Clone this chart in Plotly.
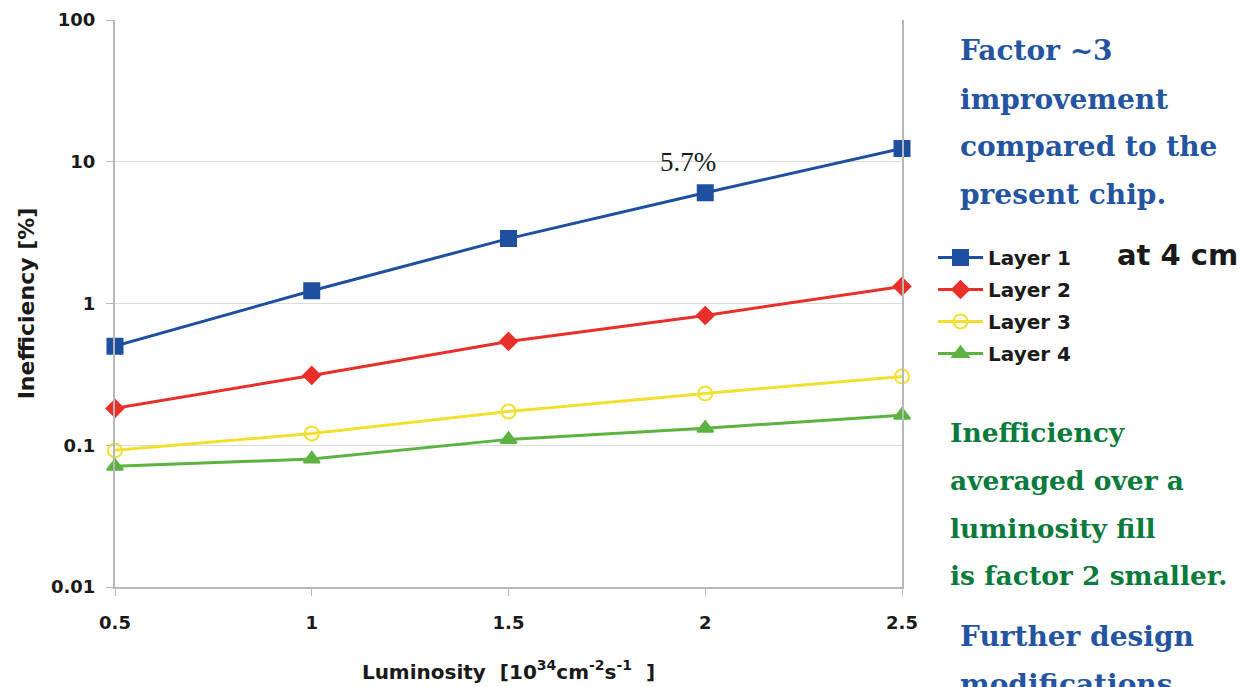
import plotly.graph_objects as go

luminosity = [0.5, 1.0, 1.5, 2.0, 2.5]
layer1 = [0.50, 1.23, 2.87, 6.05, 12.4]
layer2 = [0.182, 0.311, 0.54, 0.823, 1.32]
layer3 = [0.092, 0.121, 0.173, 0.232, 0.306]
layer4 = [0.071, 0.080, 0.110, 0.132, 0.163]
series_names = ["Layer 1", "Layer 2", "Layer 3", "Layer 4"]
x_ticks = [0.5, 1, 1.5, 2, 2.5]
x_tick_labels = ["0.5", "1", "1.5", "2", "2.5"]
y_ticks = [0.01, 0.1, 1, 10, 100]
y_tick_labels = ["0.01", "0.1", "1", "10", "100"]

W, H = 1248, 687
L, R, T, B = 115, 902, 20, 587

def px(xp):
    return (xp - L) / (R - L)

def py(yp):
    return (B - yp) / (B - T)

colors = ["#1f4f9f", "#e8302a", "#f2e030", "#5db342"]
symbols = ["square", "diamond", "circle-open", "triangle-up"]
sizes = [15, 13, 14, 14]

sans_b = "DejaVu Sans"
fig = go.Figure()
for i, (name, vals, c, s, sz) in enumerate(zip(series_names, [layer1, layer2, layer3, layer4], colors, symbols, sizes)):
    fig.add_trace(go.Scatter(
        x=luminosity, y=vals, name=name, mode="lines+markers", legendgroup="g%d" % i,
        line=dict(color=c, width=3),
        marker=dict(symbol=s, size=sz, color=c, line=dict(color=c, width=2)),
        cliponaxis=False,
    ))

fig.update_layout(
    width=W, height=H,
    margin=dict(l=L, r=W - R, t=T, b=H - B, autoexpand=False),
    paper_bgcolor="white", plot_bgcolor="white",
    font=dict(family=sans_b, color="#1a1a1a"),
    showlegend=True,
    legend=dict(x=px(933), y=py(238), xanchor="left", yanchor="top",
                font=dict(size=20, family=sans_b, color="#1a1a1a", weight="bold"),
                bgcolor="rgba(0,0,0,0)", tracegroupgap=3, traceorder="grouped", itemwidth=45),
    xaxis=dict(range=[0.5, 2.5], tickvals=x_ticks, ticktext=x_tick_labels, automargin=False,
               showgrid=False, showline=True, linecolor="#b8b8b8", linewidth=2,
               ticks="outside", ticklen=7, tickcolor="#b8b8b8", zeroline=False,
               ticklabelstandoff=11,
               tickfont=dict(size=18, family=sans_b, weight="bold", color="#1a1a1a"),
               title=dict(text="Luminosity  [10<sup>34</sup>cm<sup>-2</sup>s<sup>-1</sup>  ]",
                          font=dict(size=20, family=sans_b, weight="bold", color="#1a1a1a"), standoff=33)),
    yaxis=dict(type="log", range=[-2, 2], tickvals=y_ticks, ticktext=y_tick_labels, automargin=False,
               showgrid=True, gridcolor="#dcdcdc", gridwidth=1,
               showline=True, mirror=True, linecolor="#b8b8b8", linewidth=2,
               ticks="outside", ticklen=7, tickcolor="#b8b8b8", zeroline=False,
               ticklabelstandoff=7,
               tickfont=dict(size=18, family=sans_b, weight="bold", color="#1a1a1a"),
               title=dict(text="Inefficiency [%]", font=dict(size=22, family=sans_b, weight="bold", color="#1a1a1a"),
                          standoff=10)),
)

blue_txt = "#2554a0"
green_txt = "#0b7a3c"
serif = "DejaVu Serif"

def add_lines(lines, x0, ys, color, size):
    for t, y in zip(lines, ys):
        fig.add_annotation(text="<b>%s</b>" % t, xref="paper", yref="paper",
                           x=px(x0), y=py(y), xanchor="left", yanchor="middle",
                           showarrow=False, font=dict(family=serif, size=size, color=color))

add_lines(["Factor ~3", "improvement", "compared to the", "present chip."], 958, [50, 99, 146, 194], blue_txt, 28)
add_lines(["Inefficiency", "averaged over a", "luminosity fill", "is factor 2 smaller."], 948, [432, 480, 528, 575], green_txt, 26.5)
add_lines(["Further design", "modifications"], 958, [637, 684], blue_txt, 28)

fig.add_annotation(text="<b>at 4 cm</b>", xref="paper", yref="paper", x=px(1115), y=py(255),
                   xanchor="left", yanchor="middle", showarrow=False,
                   font=dict(family="DejaVu Sans", size=29, color="#1a1a1a"))

fig.add_annotation(text="5.7%", xref="paper", yref="paper", x=px(688), y=py(162),
                   xanchor="center", yanchor="middle", showarrow=False,
                   font=dict(family="Liberation Serif", size=27, color="#1a1a1a"))

fig.write_html("out.html")
